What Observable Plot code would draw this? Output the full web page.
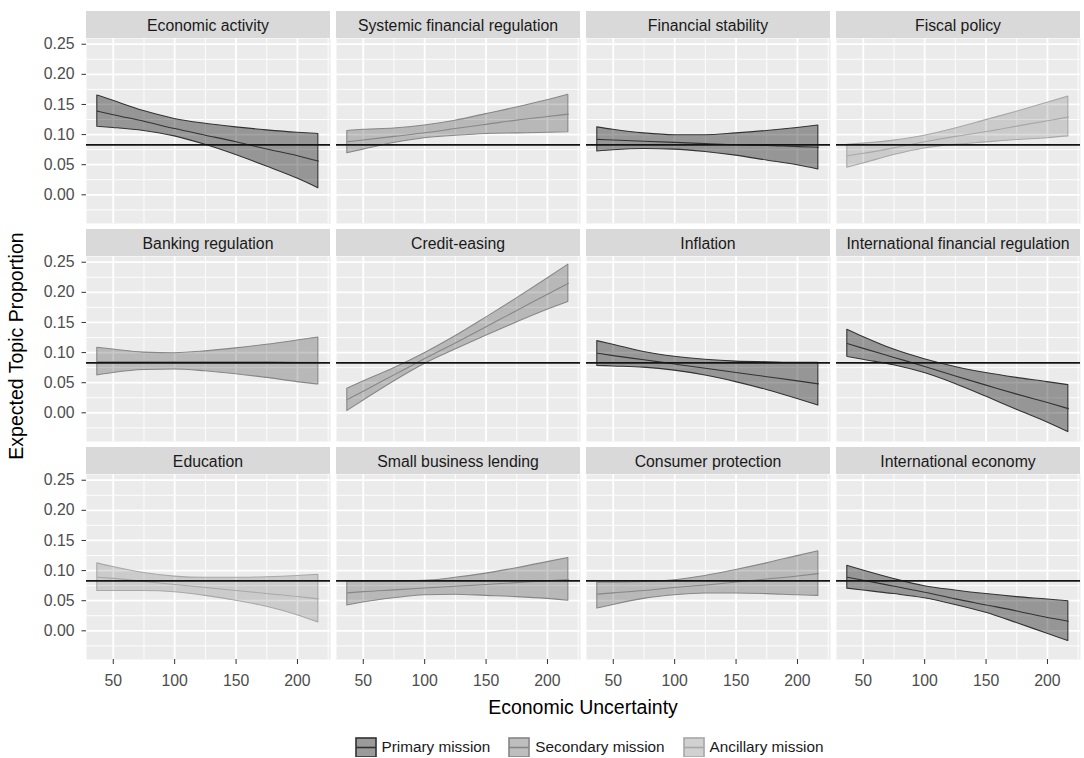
<!DOCTYPE html>
<html>
<head>
<meta charset="utf-8">
<script src="https://cdn.jsdelivr.net/npm/d3@7"></script>
<script src="https://cdn.jsdelivr.net/npm/@observablehq/plot@0.6"></script>
<style>
  body { margin: 0; background: #fff; font-family: "Liberation Sans", Arial, Helvetica, sans-serif; }
  #chart { width: 1084px; }
  #legend { display: flex; justify-content: center; align-items: center; height: 20px; padding-top: 13px; padding-left: 94px; font-size: 15.3px; color: #1a1a1a; }
  .item { display: flex; align-items: center; margin: 0 9px; }
  .item svg { margin-right: 5px; }
</style>
</head>
<body>
<div id="chart"></div>
<script>
// ---------------- data ----------------
const topics = ["Economic activity", "Systemic financial regulation", "Financial stability", "Fiscal policy",
  "Banking regulation", "Credit-easing", "Inflation", "International financial regulation",
  "Education", "Small business lending", "Consumer protection", "International economy"];
const missions = ["Primary", "Secondary", "Primary", "Ancillary",
  "Secondary", "Secondary", "Primary", "Primary",
  "Ancillary", "Secondary", "Secondary", "Primary"];
const missionOrder = ["Primary mission", "Secondary mission", "Ancillary mission"];
const uncertainty = [37, 50, 75, 100, 125, 150, 175, 200, 217];
const fitValues = [
  [0.139, 0.133, 0.122, 0.110, 0.099, 0.088, 0.076, 0.065, 0.056],
  [0.088, 0.091, 0.097, 0.103, 0.110, 0.117, 0.124, 0.130, 0.134],
  [0.092, 0.091, 0.089, 0.087, 0.085, 0.083, 0.082, 0.080, 0.079],
  [0.065, 0.069, 0.078, 0.088, 0.097, 0.105, 0.114, 0.123, 0.129],
  [0.085, 0.085, 0.085, 0.085, 0.085, 0.085, 0.085, 0.084, 0.084],
  [0.022, 0.036, 0.063, 0.090, 0.116, 0.143, 0.170, 0.197, 0.215],
  [0.099, 0.095, 0.088, 0.081, 0.074, 0.067, 0.060, 0.053, 0.048],
  [0.115, 0.107, 0.092, 0.077, 0.061, 0.046, 0.031, 0.017, 0.007],
  [0.089, 0.087, 0.082, 0.077, 0.072, 0.067, 0.062, 0.057, 0.053],
  [0.063, 0.065, 0.068, 0.071, 0.074, 0.077, 0.080, 0.083, 0.085],
  [0.061, 0.063, 0.067, 0.072, 0.076, 0.081, 0.086, 0.091, 0.095],
  [0.089, 0.084, 0.074, 0.064, 0.053, 0.043, 0.033, 0.022, 0.016]
];
const lowerValues = [
  [0.113, 0.111, 0.106, 0.097, 0.083, 0.066, 0.047, 0.027, 0.011],
  [0.069, 0.075, 0.086, 0.094, 0.098, 0.101, 0.102, 0.103, 0.104],
  [0.072, 0.074, 0.076, 0.075, 0.071, 0.065, 0.057, 0.049, 0.042],
  [0.045, 0.052, 0.066, 0.077, 0.083, 0.087, 0.091, 0.094, 0.097],
  [0.062, 0.066, 0.071, 0.072, 0.069, 0.064, 0.058, 0.051, 0.047],
  [0.003, 0.020, 0.052, 0.081, 0.105, 0.128, 0.150, 0.171, 0.184],
  [0.078, 0.077, 0.075, 0.070, 0.062, 0.051, 0.038, 0.023, 0.012],
  [0.093, 0.088, 0.079, 0.066, 0.048, 0.027, 0.005, -0.016, -0.032],
  [0.066, 0.066, 0.066, 0.064, 0.058, 0.050, 0.040, 0.026, 0.014],
  [0.042, 0.047, 0.054, 0.059, 0.060, 0.058, 0.056, 0.053, 0.050],
  [0.037, 0.043, 0.053, 0.059, 0.062, 0.062, 0.061, 0.059, 0.058],
  [0.070, 0.067, 0.061, 0.054, 0.043, 0.030, 0.013, -0.005, -0.017]
];
const upperValues = [
  [0.165, 0.156, 0.139, 0.126, 0.118, 0.112, 0.107, 0.103, 0.101],
  [0.106, 0.108, 0.110, 0.115, 0.123, 0.134, 0.145, 0.157, 0.166],
  [0.112, 0.108, 0.102, 0.099, 0.099, 0.102, 0.106, 0.111, 0.115],
  [0.083, 0.085, 0.090, 0.098, 0.110, 0.124, 0.138, 0.153, 0.163],
  [0.108, 0.105, 0.100, 0.099, 0.102, 0.107, 0.113, 0.120, 0.125],
  [0.040, 0.052, 0.074, 0.099, 0.127, 0.158, 0.190, 0.223, 0.246],
  [0.119, 0.113, 0.101, 0.093, 0.088, 0.085, 0.084, 0.083, 0.083],
  [0.138, 0.126, 0.105, 0.089, 0.076, 0.066, 0.058, 0.051, 0.046],
  [0.112, 0.106, 0.096, 0.090, 0.088, 0.088, 0.089, 0.091, 0.093],
  [0.082, 0.082, 0.082, 0.083, 0.088, 0.095, 0.104, 0.114, 0.121],
  [0.080, 0.080, 0.081, 0.084, 0.091, 0.101, 0.112, 0.124, 0.132],
  [0.108, 0.100, 0.086, 0.074, 0.067, 0.061, 0.056, 0.052, 0.049]
];
const referenceLine = [0.083];
const xTicks = [50, 100, 150, 200];
const xMinorTicks = [75, 125, 175, 225];
const yTicks = [0, 0.05, 0.10, 0.15, 0.20, 0.25];
const yMinorTicks = [-0.025, 0.025, 0.075, 0.125, 0.175, 0.225];
const xTitle = "Economic Uncertainty";
const yTitle = "Expected Topic Proportion";

// ---------------- styles ----------------
const missionStyle = {
  Primary:   {opacity: 0.36, stroke: "#333333"},
  Secondary: {opacity: 0.215, stroke: "#878787"},
  Ancillary: {opacity: 0.135, stroke: "#a8a8a8"}
};
const FONT = '"Liberation Sans", Arial, Helvetica, sans-serif';

// ---------------- table ----------------
const rows = [];
topics.forEach((t, i) => uncertainty.forEach((x, j) => rows.push({
  topic: t, mission: missions[i], col: i % 4, row: Math.floor(i / 4),
  x, fit: fitValues[i][j], lo: lowerValues[i][j], hi: upperValues[i][j]
})));

const missionMarks = Object.keys(missionStyle).flatMap(m => {
  const data = rows.filter(d => d.mission === m);
  const s = missionStyle[m];
  return [
    Plot.areaY(data, {x: "x", y1: "lo", y2: "hi", z: "topic", fx: "col", fy: "row",
      fill: "black", fillOpacity: s.opacity, stroke: s.stroke, strokeWidth: 1.1, curve: "monotone-x"}),
    Plot.lineY(data, {x: "x", y: "fit", z: "topic", fx: "col", fy: "row",
      stroke: s.stroke, strokeWidth: 1.1, curve: "monotone-x"})
  ];
});

const H = 724;
const plot = Plot.plot({
  width: 1084,
  height: H,
  marginLeft: 86, marginRight: 4, marginTop: 37, marginBottom: 65,
  fx: {domain: [0, 1, 2, 3], paddingInner: 0.024, paddingOuter: 0, axis: null},
  fy: {domain: [0, 1, 2], paddingInner: 0.1533, paddingOuter: 0, axis: null},
  x: {domain: [28.2, 226.9]},
  y: {domain: [-0.0476, 0.2595]},
  style: {fontFamily: FONT, fontSize: "15.8px", background: "white", color: "#4d4d4d"},
  marks: [
    Plot.frame({fill: "#EBEBEB"}),
    Plot.gridX({ticks: xMinorTicks, stroke: "white", strokeOpacity: 1, strokeWidth: 0.9}),
    Plot.gridY({ticks: yMinorTicks, stroke: "white", strokeOpacity: 1, strokeWidth: 0.9}),
    Plot.gridX({ticks: xTicks, stroke: "white", strokeOpacity: 1, strokeWidth: 1.8}),
    Plot.gridY({ticks: yTicks, stroke: "white", strokeOpacity: 1, strokeWidth: 1.8}),
    ...missionMarks,
    Plot.ruleY(referenceLine, {stroke: "#141414", strokeWidth: 1.7}),
    Plot.axisX({ticks: xTicks, facetAnchor: "bottom", tickSize: 5, tickPadding: 10, stroke: "#333333", fill: "#4d4d4d", label: null, fontSize: 15.8}),
    Plot.axisY({ticks: yTicks, facetAnchor: "left", tickSize: 4.5, tickPadding: 7.5, tickFormat: d3.format(".2f"), stroke: "#333333", fill: "#4d4d4d", label: null, fontSize: 15.8})
  ]
});

// strips (facet_wrap style labels) positioned with the facet scales
const fxS = plot.scale("fx"), fyS = plot.scale("fy");
const svg = d3.select(plot);
const stripH = 27;
topics.forEach((t, i) => {
  const x0 = fxS.apply(i % 4), y0 = fyS.apply(Math.floor(i / 4));
  const g = svg.append("g");
  g.append("rect").attr("x", x0).attr("y", y0 - stripH).attr("width", fxS.bandwidth).attr("height", stripH).attr("fill", "#D9D9D9");
  g.append("text").attr("x", x0 + fxS.bandwidth / 2).attr("y", y0 - stripH / 2 + 0.5)
    .attr("text-anchor", "middle").attr("dominant-baseline", "central")
    .attr("fill", "#1a1a1a").style("font-size", "15.8px").style("font-family", FONT).text(t);
});
// axis titles
const xr = fxS.range;
svg.append("text").attr("x", (xr[0] + xr[1]) / 2).attr("y", 714).attr("text-anchor", "middle")
  .attr("fill", "#000").style("font-size", "19.5px").style("font-family", FONT).text(xTitle);
const yr = fyS.range;
svg.append("text").attr("transform", `translate(23,${(yr[0] + yr[1]) / 2 - 2}) rotate(-90)`).attr("text-anchor", "middle")
  .attr("fill", "#000").style("font-size", "19.5px").style("font-family", FONT).text(yTitle);

document.getElementById("chart").appendChild(plot);

// legend
const legend = document.createElement("div");
legend.id = "legend";
Object.keys(missionStyle).forEach((m, k) => {
  const s = missionStyle[m];
  const item = document.createElement("div");
  item.className = "item";
  item.innerHTML = `<svg width="22" height="21" viewBox="0 0 22 21">
    <rect x="0" y="0" width="22" height="21" fill="#F2F2F2"></rect>
    <rect x="1" y="1" width="20" height="19" fill="black" fill-opacity="${s.opacity}" stroke="${s.stroke}" stroke-width="1.6"></rect>
    <line x1="1" x2="21" y1="10.5" y2="10.5" stroke="${s.stroke}" stroke-width="1.6"></line>
  </svg><span>${missionOrder[k]}</span>`;
  legend.appendChild(item);
});
document.getElementById("chart").appendChild(legend);
</script>
</body>
</html>
